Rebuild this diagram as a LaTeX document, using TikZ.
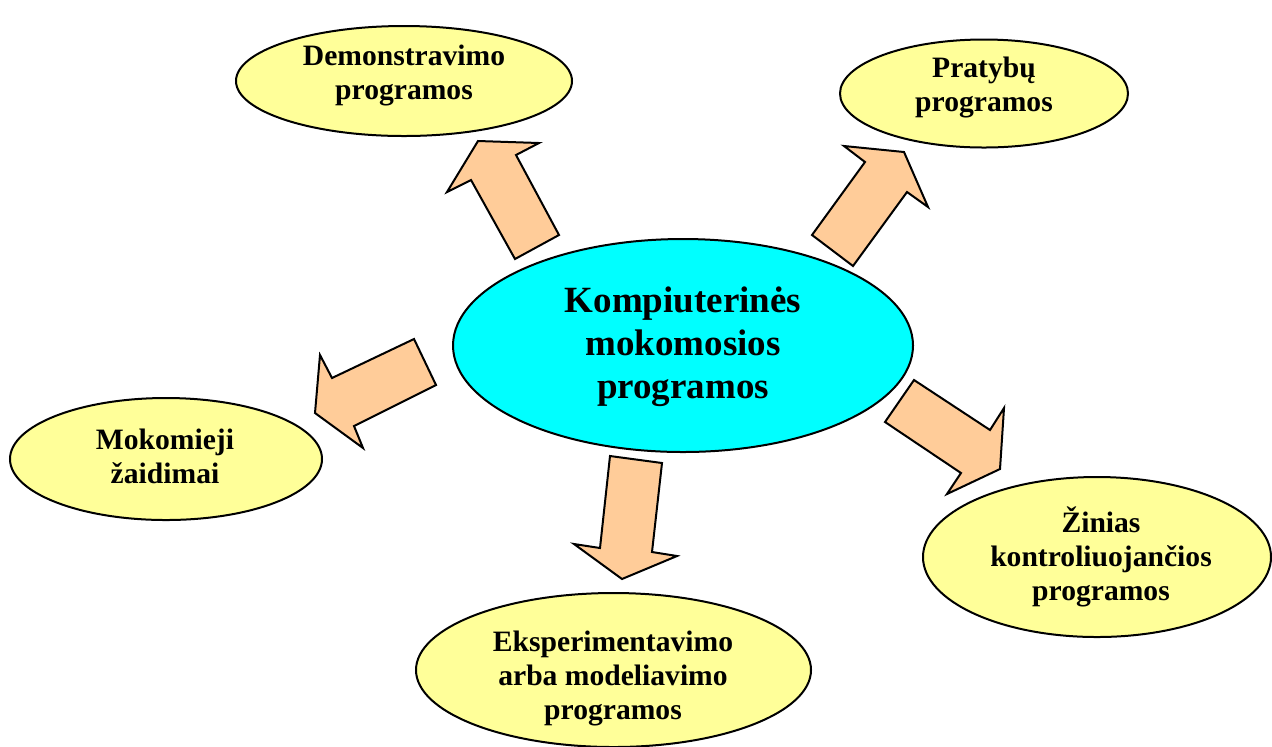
\documentclass[tikz,border=0pt]{standalone}
\usepackage{fontspec}
\setmainfont{Liberation Serif}
\usetikzlibrary{shapes.geometric}
\definecolor{leaffill}{RGB}{255,255,153}
\definecolor{hubfill}{RGB}{0,255,255}
\definecolor{arrowfill}{RGB}{255,204,153}

\begin{document}
\begin{tikzpicture}[x=0.5pt,y=-0.5pt,
  oval/.style={ellipse, draw=black, line width=1pt, inner sep=0pt, outer sep=0pt},
  leaf/.style={oval, fill=leaffill},
  hub/.style={oval, fill=hubfill},
  leaftext/.style={align=center, inner sep=0pt,
    font=\fontsize{14.8}{17}\selectfont\bfseries},
  hubtext/.style={align=center, inner sep=0pt,
    font=\fontsize{18.5}{21.5}\selectfont\bfseries},
  blockarrow/.style={draw=black, fill=arrowfill, line width=1pt, line join=miter}]
\clip (0,0) rectangle (1272,746);

% central topic
\node[hub, minimum width=230pt, minimum height=106.5pt] (core) at (683,345.5) {};
\node[hubtext] (coretext) at (683,347) {Kompiuterinės\\mokomosios\\programos};

% program types
\node[leaf, minimum width=168pt, minimum height=55pt] (demo) at (404,81) {};
\node[leaftext] (demotext) at (404,75) {Demonstravimo\\programos};

\node[leaf, minimum width=144pt, minimum height=54pt] (prat) at (984,93.5) {};
\node[leaftext] (prattext) at (984,87) {Pratybų\\programos};

\node[leaf, minimum width=156pt, minimum height=61pt] (moko) at (166,459) {};
\node[leaftext] (mokotext) at (165,456) {Mokomieji\\žaidimai};

\node[leaf, minimum width=174pt, minimum height=80pt] (zin) at (1097,557) {};
\node[leaftext] (zintext) at (1101,557) {Žinias\\kontroliuojančios\\programos};

\node[leaf, minimum width=197.5pt, minimum height=77pt] (eksp) at (613.5,670) {};
\node[leaftext] (eksptext) at (613,678) {Eksperimentavimo\\arba modeliavimo\\programos};

% block arrows from the centre outwards
\draw[blockarrow] (478,141) -- (539,143) -- (516,155) -- (559,235) -- (515,259)
  -- (471,180) -- (447,192) -- cycle;
\draw[blockarrow] (844,146) -- (904,152) -- (928,207) -- (907,192) -- (853,266)
  -- (812,235) -- (865,162) -- cycle;
\draw[blockarrow] (320,355) -- (332,378) -- (414,339) -- (436,385) -- (354,426)
  -- (363,448) -- (315,413) -- cycle;
\draw[blockarrow] (914,380) -- (990,430) -- (1004,408) -- (1000,469) -- (947,494)
  -- (961,473) -- (885,422) -- cycle;
\draw[blockarrow] (610,456) -- (662,463) -- (652,552) -- (677,556) -- (622,579)
  -- (574,544) -- (600,548) -- cycle;
\end{tikzpicture}
\end{document}
